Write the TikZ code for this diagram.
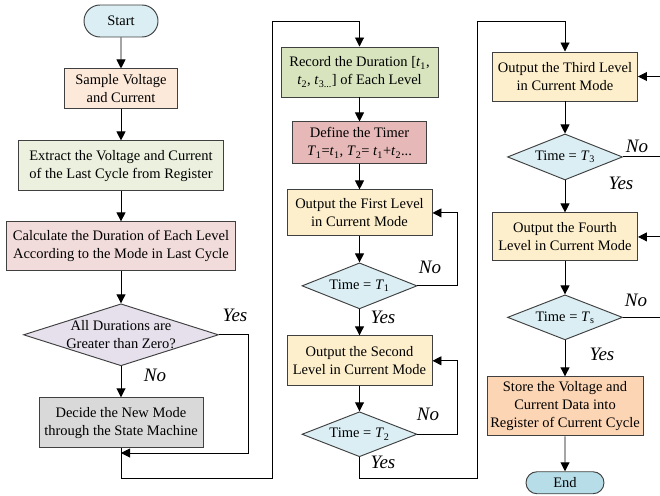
\documentclass[tikz,border=0pt]{standalone}
\usepackage{fontspec}
\setmainfont{Liberation Serif}
\usetikzlibrary{arrows.meta,positioning,shapes.geometric,shapes.misc}

\definecolor{cStart}{HTML}{DAEEF3}
\definecolor{cEnd}{HTML}{B7DEE8}
\definecolor{cSample}{HTML}{FDE9D9}
\definecolor{cExtract}{HTML}{EBF1DE}
\definecolor{cCalc}{HTML}{F2DCDB}
\definecolor{cCheck}{HTML}{E5E0EC}
\definecolor{cDecide}{HTML}{D9D9D9}
\definecolor{cRecord}{HTML}{D7E4BD}
\definecolor{cTimer}{HTML}{E6B9B8}
\definecolor{cOut}{HTML}{FDEFCB}
\definecolor{cStore}{HTML}{FCD5B4}
\definecolor{cLine}{HTML}{404040}

\newcommand{\tv}[2]{\textit{#1}\textsubscript{#2}}

\begin{document}
\begin{tikzpicture}[
  x=1pt, y=-1pt,
  font=\fontsize{14.5}{18}\selectfont,
  box/.style={draw=cLine, align=center, inner xsep=2pt, inner ysep=2pt},
  term/.style={box, rounded rectangle, minimum width=78pt, minimum height=32pt},
  outbox/.style={box, fill=cOut, minimum width=145pt, minimum height=48pt},
  dec/.style={box, diamond, aspect=2.5, inner sep=0pt, fill=cStart, minimum width=115pt, minimum height=46pt},
  lbl/.style={font=\fontsize{19}{21}\selectfont\itshape, inner sep=0pt},
  >={Triangle[length=9pt,width=9pt]}, line width=0.95pt
]
  \useasboundingbox (0,0) rectangle (660,495);

  % first column
  \node[term, fill=cStart] (start) at (121,21) {Start};
  \node[box, fill=cSample, minimum width=113pt, minimum height=40pt, below=31pt of start] (sample) {Sample Voltage\\and Current};
  \node[box, fill=cExtract, minimum width=205pt, minimum height=50pt, below=31pt of sample] (extract) {Extract the Voltage and Current\\of the Last Cycle from Register};
  \node[box, fill=cCalc, minimum width=229pt, minimum height=49pt, below=30pt of extract] (calc) {Calculate the Duration of Each Level\\According to the Mode in Last Cycle};
  \node[dec, fill=cCheck, aspect=3.15, inner sep=-3pt, minimum width=195pt, minimum height=62pt, below=32pt of calc] (check) {All Durations are\\Greater than Zero?};
  \node[box, fill=cDecide, minimum width=164pt, minimum height=50pt, below=31pt of check] (decide) {Decide the New Mode\\through the State Machine};

  % second column
  \node[box, fill=cRecord, minimum width=157pt, minimum height=50pt] (record) at (359.5,72) {Record the Duration [\tv{t}{1},\\\tv{t}{2}, \tv{t}{3...}] of Each Level};
  \node[box, fill=cTimer, minimum width=134pt, minimum height=42pt, below=24pt of record] (timer) {Define the Timer\\\tv{T}{1}=\tv{t}{1}, \tv{T}{2}= \tv{t}{1}+\tv{t}{2}...};
  \node[outbox, minimum height=46pt, below=25pt of timer] (out1) {Output the First Level\\in Current Mode};
  \node[dec, below=26pt of out1] (t1) {Time = \tv{T}{1}};
  \node[outbox, minimum height=50pt, below=26pt of t1] (out2) {Output the Second\\Level in Current Mode};
  \node[dec, minimum height=45pt, below=25pt of out2] (t2) {Time = \tv{T}{2}};

  % third column
  \node[outbox, minimum height=49pt] (out3) at (565,76.5) {Output the Third Level\\in Current Mode};
  \node[dec, below=32pt of out3] (t3) {Time = \tv{T}{3}};
  \node[outbox, below=32pt of t3] (out4) {Output the Fourth\\Level in Current Mode};
  \node[dec, minimum height=45pt, below=33pt of out4] (ts) {Time = \tv{T}{s}};
  \node[box, fill=cStore, minimum width=156pt, minimum height=59pt, below=36pt of ts] (store) {Store the Voltage and\\Current Data into\\Register of Current Cycle};
  \node[term, fill=cEnd, minimum width=82pt, minimum height=22pt, below=35pt of store] (end) {End};

  \coordinate (yes0) at (248,453);
  \coordinate (loop1) at (272,478);
  \coordinate (top1) at (272,21);
  \coordinate (loop2) at (477,478);
  \coordinate (top2) at (477,21);
  \coordinate (back) at (457,0);
  \coordinate (edge) at (660,0);

  \draw[->] (start) -- (sample);
  \draw[->] (sample) -- (extract);
  \draw[->] (extract) -- (calc);
  \draw[->] (calc) -- (check);
  \draw[->] (check) -- (decide);
  \draw[->] (check.east) -| (yes0) -- (yes0 -| decide.south);
  \draw[->] (decide.south) |- (loop1) -- (top1) -| (record.north);

  \draw[->] (record) -- (timer);
  \draw[->] (timer) -- (out1);
  \draw[->] (out1) -- (t1);
  \draw[->] (t1) -- (out2);
  \draw[->] (out2) -- (t2);
  \draw[->] (t1.east) -- (t1.east -| back) |- (out1.east);
  \draw[->] (t2.east) -- (t2.east -| back) |- (out2.east);
  \draw[->] (t2.south) |- (loop2) -- (top2) -| (out3.north);

  \draw[->] (out3) -- (t3);
  \draw[->] (t3) -- (out4);
  \draw[->] (out4) -- (ts);
  \draw[->] (ts) -- (store);
  \draw[->] (store) -- (end);
  \draw (t3.east) -- (t3.east -| edge);
  \draw[->] (out3.east -| edge) -- (out3.east);
  \draw (ts.east) -- (ts.east -| edge);
  \draw[->] (out4.east -| edge) -- (out4.east);

  % yes / no
  \node[lbl] (ly0) at (235,315) {Yes};
  \node[lbl] (ln0) at (155,375) {No};
  \node[lbl] (ln1) at (430,267) {No};
  \node[lbl] (ly1) at (383,317) {Yes};
  \node[lbl] (ln2) at (428,414) {No};
  \node[lbl] (ly2) at (383,462) {Yes};
  \node[lbl] (ln3) at (637,146) {No};
  \node[lbl] (ly3) at (621,183) {Yes};
  \node[lbl] (ln4) at (636,300) {No};
  \node[lbl] (ly4) at (602,354) {Yes};
\end{tikzpicture}
\end{document}
